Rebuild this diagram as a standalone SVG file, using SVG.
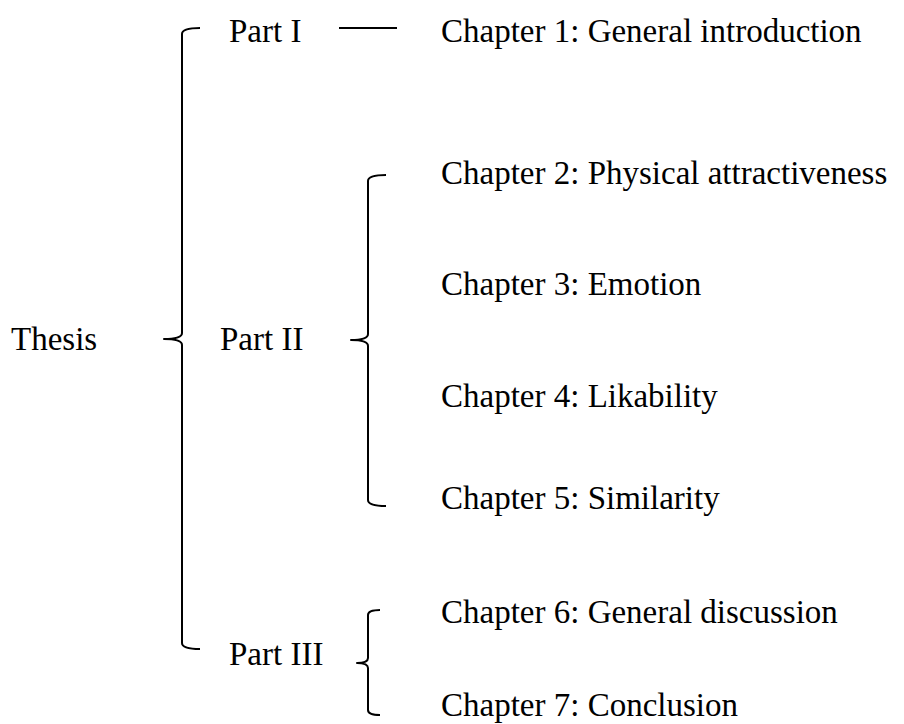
<svg xmlns="http://www.w3.org/2000/svg" width="904" height="724" viewBox="0 0 904 724">
<style>
text{font-family:"Liberation Serif","Times New Roman",serif;font-size:33px;fill:#000}
.c{fill:none;stroke:#000;stroke-width:2;stroke-linejoin:round}
</style>
<rect width="904" height="724" fill="#fff"/>
<g id="connectors">
<path class="c" d="M200,28 Q182,28 182,34 L182,333 Q182,339 164,339 Q182,339 182,345 L182,643 Q182,649 200,649"/>
<path class="c" d="M339,28 L397,28"/>
<path class="c" d="M386,175 Q368,175 368,181 L368,334 Q368,340 351,340 Q368,340 368,346 L368,500 Q368,506 386,506"/>
<path class="c" d="M380,610 Q368,610 368,615 L368,658 Q368,663 357,663 Q368,663 368,668 L368,710 Q368,715 380,715"/>
</g>
<g id="thesis"><text x="11" y="350">Thesis</text></g>
<g id="part1"><text x="229" y="42">Part I</text></g>
<g id="part2"><text x="220" y="350">Part II</text></g>
<g id="part3"><text x="229" y="665">Part III</text></g>
<g id="ch1"><text x="441" y="42">Chapter 1: General introduction</text></g>
<g id="ch2"><text x="441" y="184">Chapter 2: Physical attractiveness</text></g>
<g id="ch3"><text x="441" y="295">Chapter 3: Emotion</text></g>
<g id="ch4"><text x="441" y="407">Chapter 4: Likability</text></g>
<g id="ch5"><text x="441" y="509">Chapter 5: Similarity</text></g>
<g id="ch6"><text x="441" y="623">Chapter 6: General discussion</text></g>
<g id="ch7"><text x="441" y="716">Chapter 7: Conclusion</text></g>
</svg>
